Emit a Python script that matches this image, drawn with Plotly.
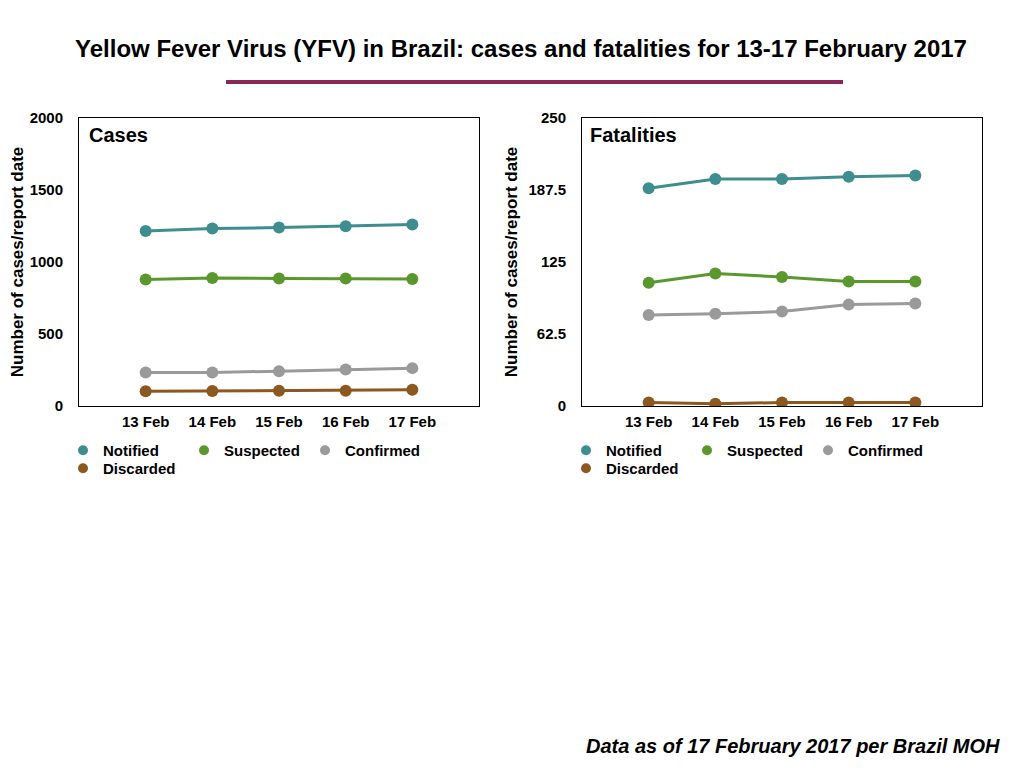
import plotly.graph_objects as go

dates = ["13 Feb", "14 Feb", "15 Feb", "16 Feb", "17 Feb"]
series_names = ["Notified", "Suspected", "Confirmed", "Discarded"]
colors = ["#3E8E8F", "#5A982E", "#9A9A9A", "#8C581F"]

cases_notified = [1215, 1232, 1239, 1248, 1260]
cases_suspected = [878, 889, 885, 885, 882]
cases_confirmed = [233, 233, 242, 254, 263]
cases_discarded = [102, 104, 106, 106, 113]

fat_notified = [189, 197, 197, 199, 200]
fat_suspected = [107, 115, 112, 108, 108]
fat_confirmed = [79, 80, 82, 88, 89]
fat_discarded = [3, 2, 3, 3, 3]

cases_ticks = [0, 500, 1000, 1500, 2000]
fat_ticks = [0, 62.5, 125, 187.5, 250]

FONT = "Liberation Sans, Arial, sans-serif"
W, H, OFF = 1024, 768, 8  # page body margin offset


def px(x):
    return (x - OFF) / W


def py(y):
    return 1 - (y - OFF) / H


fig = go.Figure()

cases = [cases_notified, cases_suspected, cases_confirmed, cases_discarded]
fats = [fat_notified, fat_suspected, fat_confirmed, fat_discarded]

for i, (name, col) in enumerate(zip(series_names, colors)):
    fig.add_trace(go.Scatter(x=dates, y=cases[i], mode="lines+markers", name=name,
                             line=dict(color=col, width=3), marker=dict(color=col, size=12),
                             xaxis="x", yaxis="y", showlegend=False))
    fig.add_trace(go.Scatter(x=dates, y=fats[i], mode="lines+markers", name=name,
                             line=dict(color=col, width=3), marker=dict(color=col, size=12),
                             xaxis="x2", yaxis="y2", showlegend=False))

# legend entries (marker symbols only, as in reference)
for panel, (lg1, lg2) in enumerate([("legend", "legend2"), ("legend3", "legend4")]):
    for i, (name, col) in enumerate(zip(series_names, colors)):
        fig.add_trace(go.Scatter(x=[None], y=[None], mode="markers", name=name,
                                 marker=dict(color=col, size=10),
                                 xaxis="x" if panel == 0 else "x2",
                                 yaxis="y" if panel == 0 else "y2",
                                 legend=lg1 if i < 3 else lg2, showlegend=True))

tick_font = dict(size=15, color="black", family=FONT, weight="bold")
axis_common = dict(showgrid=False, zeroline=False, showline=True, linecolor="black",
                   linewidth=1, mirror=True, ticks="", tickfont=tick_font)
ytitle_font = dict(size=17, family=FONT, weight="bold", color="black")

fig.update_layout(
    width=W, height=H,
    margin=dict(l=0, r=0, t=0, b=0, autoexpand=False),
    paper_bgcolor="white", plot_bgcolor="white",
    font=dict(family=FONT, color="black"),
    title=dict(text="Yellow Fever Virus (YFV) in Brazil: cases and fatalities for 13-17 February 2017",
               x=px(521), xanchor="center", y=py(49), yanchor="middle",
               font=dict(size=24, family=FONT, weight="bold", color="black")),
    xaxis=dict(domain=[px(79), px(479)], range=[-1, 5], type="category", anchor="y",
               ticklabelstandoff=2, **axis_common),
    yaxis=dict(domain=[py(406), py(118)], range=[0, 2000], tickvals=cases_ticks,
               anchor="x", ticklabelstandoff=12,
               title=dict(text="Number of cases/report date", standoff=6, font=ytitle_font),
               **axis_common),
    xaxis2=dict(domain=[px(582), px(982)], range=[-1, 5], type="category", anchor="y2",
                ticklabelstandoff=2, **axis_common),
    yaxis2=dict(domain=[py(406), py(118)], range=[0, 250], tickvals=fat_ticks,
                ticktext=[str(v) for v in fat_ticks], anchor="x2", ticklabelstandoff=12,
                title=dict(text="Number of cases/report date", standoff=6, font=ytitle_font),
                **axis_common),
)

leg_font = dict(size=15, family=FONT, weight="bold", color="black")
leg_common = dict(orientation="h", font=leg_font, bgcolor="rgba(0,0,0,0)", itemclick=False,
                  entrywidth=76, entrywidthmode="pixels", xanchor="left", yanchor="top",
                  tracegroupgap=0, itemwidth=30)
fig.update_layout(
    legend=dict(x=px(63), y=py(434), **leg_common),
    legend2=dict(x=px(63), y=py(452), **leg_common),
    legend3=dict(x=px(566), y=py(434), **leg_common),
    legend4=dict(x=px(566), y=py(452), **leg_common),
)

fig.add_shape(type="line", xref="paper", yref="paper", x0=px(226), x1=px(843),
              y0=py(82), y1=py(82), line=dict(color="#8A2756", width=4))

ann_font = dict(size=20, family=FONT, weight="bold", color="black")
fig.add_annotation(text="Cases", xref="paper", yref="paper", x=px(87), y=py(135),
                   xanchor="left", yanchor="middle", showarrow=False, font=ann_font)
fig.add_annotation(text="Fatalities", xref="paper", yref="paper", x=px(588), y=py(135),
                   xanchor="left", yanchor="middle", showarrow=False, font=ann_font)
fig.add_annotation(text="<i>Data as of 17 February 2017 per Brazil MOH</i>", xref="paper", yref="paper",
                   x=px(1002), y=py(746), xanchor="right", yanchor="middle", showarrow=False,
                   font=dict(size=20, family=FONT, weight="bold", color="black"))

fig.write_html("out.html")
